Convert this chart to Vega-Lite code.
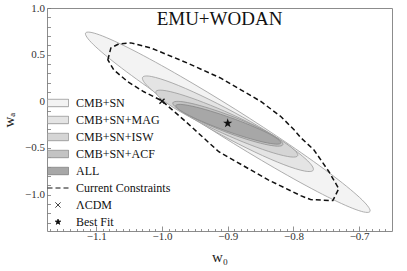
{
  "$schema": "https://vega.github.io/schema/vega-lite/v6.json",
  "width": 345,
  "height": 223,
  "autosize": {"type": "none"},
  "padding": {"left": 47, "top": 8, "right": 15, "bottom": 40},
  "title": {"text": "EMU+WODAN", "font": "Liberation Serif", "fontSize": 19, "fontWeight": "normal", "color": "#111", "offset": -27, "anchor": "middle"},
  "datasets": {
    "ell": [
      {"series": "CMB+SN", "i": 0, "x": -0.6836, "y": -1.1817},
      {"series": "CMB+SN", "i": 1, "x": -0.6954, "y": -1.0569},
      {"series": "CMB+SN", "i": 2, "x": -0.7383, "y": -0.8053},
      {"series": "CMB+SN", "i": 3, "x": -0.8059, "y": -0.4653},
      {"series": "CMB+SN", "i": 4, "x": -0.8877, "y": -0.0887},
      {"series": "CMB+SN", "i": 5, "x": -0.9715, "y": 0.2673},
      {"series": "CMB+SN", "i": 6, "x": -1.0442, "y": 0.5484},
      {"series": "CMB+SN", "i": 7, "x": -1.095, "y": 0.7119},
      {"series": "CMB+SN", "i": 8, "x": -1.1162, "y": 0.7327},
      {"series": "CMB+SN", "i": 9, "x": -1.1044, "y": 0.6079},
      {"series": "CMB+SN", "i": 10, "x": -1.0615, "y": 0.3563},
      {"series": "CMB+SN", "i": 11, "x": -0.9939, "y": 0.0163},
      {"series": "CMB+SN", "i": 12, "x": -0.9121, "y": -0.3603},
      {"series": "CMB+SN", "i": 13, "x": -0.8283, "y": -0.7163},
      {"series": "CMB+SN", "i": 14, "x": -0.7556, "y": -0.9974},
      {"series": "CMB+SN", "i": 15, "x": -0.7048, "y": -1.1609},
      {"series": "CMB+SN+MAG", "i": 0, "x": -0.7699, "y": -0.7382},
      {"series": "CMB+SN+MAG", "i": 1, "x": -0.7761, "y": -0.6536},
      {"series": "CMB+SN+MAG", "i": 2, "x": -0.8012, "y": -0.5062},
      {"series": "CMB+SN+MAG", "i": 3, "x": -0.8413, "y": -0.3183},
      {"series": "CMB+SN+MAG", "i": 4, "x": -0.8902, "y": -0.1186},
      {"series": "CMB+SN+MAG", "i": 5, "x": -0.9407, "y": 0.0625},
      {"series": "CMB+SN+MAG", "i": 6, "x": -0.9848, "y": 0.1975},
      {"series": "CMB+SN+MAG", "i": 7, "x": -1.0161, "y": 0.2658},
      {"series": "CMB+SN+MAG", "i": 8, "x": -1.0295, "y": 0.257},
      {"series": "CMB+SN+MAG", "i": 9, "x": -1.0233, "y": 0.1724},
      {"series": "CMB+SN+MAG", "i": 10, "x": -0.9982, "y": 0.025},
      {"series": "CMB+SN+MAG", "i": 11, "x": -0.9581, "y": -0.1629},
      {"series": "CMB+SN+MAG", "i": 12, "x": -0.9092, "y": -0.3626},
      {"series": "CMB+SN+MAG", "i": 13, "x": -0.8587, "y": -0.5437},
      {"series": "CMB+SN+MAG", "i": 14, "x": -0.8146, "y": -0.6787},
      {"series": "CMB+SN+MAG", "i": 15, "x": -0.7833, "y": -0.747},
      {"series": "CMB+SN+ISW", "i": 0, "x": -0.7935, "y": -0.5832},
      {"series": "CMB+SN+ISW", "i": 1, "x": -0.7992, "y": -0.5179},
      {"series": "CMB+SN+ISW", "i": 2, "x": -0.8204, "y": -0.4101},
      {"series": "CMB+SN+ISW", "i": 3, "x": -0.854, "y": -0.2763},
      {"series": "CMB+SN+ISW", "i": 4, "x": -0.8948, "y": -0.1368},
      {"series": "CMB+SN+ISW", "i": 5, "x": -0.9366, "y": -0.0129},
      {"series": "CMB+SN+ISW", "i": 6, "x": -0.973, "y": 0.0767},
      {"series": "CMB+SN+ISW", "i": 7, "x": -0.9986, "y": 0.1181},
      {"series": "CMB+SN+ISW", "i": 8, "x": -1.0093, "y": 0.1052},
      {"series": "CMB+SN+ISW", "i": 9, "x": -1.0036, "y": 0.0399},
      {"series": "CMB+SN+ISW", "i": 10, "x": -0.9824, "y": -0.0679},
      {"series": "CMB+SN+ISW", "i": 11, "x": -0.9488, "y": -0.2017},
      {"series": "CMB+SN+ISW", "i": 12, "x": -0.908, "y": -0.3412},
      {"series": "CMB+SN+ISW", "i": 13, "x": -0.8662, "y": -0.4651},
      {"series": "CMB+SN+ISW", "i": 14, "x": -0.8298, "y": -0.5547},
      {"series": "CMB+SN+ISW", "i": 15, "x": -0.8042, "y": -0.5961},
      {"series": "CMB+SN+ACF", "i": 0, "x": -0.8161, "y": -0.4653},
      {"series": "CMB+SN+ACF", "i": 1, "x": -0.8207, "y": -0.4157},
      {"series": "CMB+SN+ACF", "i": 2, "x": -0.8374, "y": -0.3395},
      {"series": "CMB+SN+ACF", "i": 3, "x": -0.8635, "y": -0.2482},
      {"series": "CMB+SN+ACF", "i": 4, "x": -0.8952, "y": -0.1557},
      {"series": "CMB+SN+ACF", "i": 5, "x": -0.9275, "y": -0.0762},
      {"series": "CMB+SN+ACF", "i": 6, "x": -0.9557, "y": -0.0217},
      {"series": "CMB+SN+ACF", "i": 7, "x": -0.9753, "y": -0.0005},
      {"series": "CMB+SN+ACF", "i": 8, "x": -0.9835, "y": -0.0159},
      {"series": "CMB+SN+ACF", "i": 9, "x": -0.9789, "y": -0.0655},
      {"series": "CMB+SN+ACF", "i": 10, "x": -0.9622, "y": -0.1417},
      {"series": "CMB+SN+ACF", "i": 11, "x": -0.9361, "y": -0.233},
      {"series": "CMB+SN+ACF", "i": 12, "x": -0.9044, "y": -0.3255},
      {"series": "CMB+SN+ACF", "i": 13, "x": -0.8721, "y": -0.405},
      {"series": "CMB+SN+ACF", "i": 14, "x": -0.8439, "y": -0.4595},
      {"series": "CMB+SN+ACF", "i": 15, "x": -0.8243, "y": -0.4807},
      {"series": "ALL", "i": 0, "x": -0.8192, "y": -0.4472},
      {"series": "ALL", "i": 1, "x": -0.8239, "y": -0.4049},
      {"series": "ALL", "i": 2, "x": -0.84, "y": -0.3384},
      {"series": "ALL", "i": 3, "x": -0.8652, "y": -0.2579},
      {"series": "ALL", "i": 4, "x": -0.8955, "y": -0.1755},
      {"series": "ALL", "i": 5, "x": -0.9264, "y": -0.1039},
      {"series": "ALL", "i": 6, "x": -0.9531, "y": -0.0539},
      {"series": "ALL", "i": 7, "x": -0.9715, "y": -0.0331},
      {"series": "ALL", "i": 8, "x": -0.979, "y": -0.0448},
      {"series": "ALL", "i": 9, "x": -0.9743, "y": -0.0871},
      {"series": "ALL", "i": 10, "x": -0.9582, "y": -0.1536},
      {"series": "ALL", "i": 11, "x": -0.933, "y": -0.2341},
      {"series": "ALL", "i": 12, "x": -0.9027, "y": -0.3165},
      {"series": "ALL", "i": 13, "x": -0.8718, "y": -0.3881},
      {"series": "ALL", "i": 14, "x": -0.8451, "y": -0.4381},
      {"series": "ALL", "i": 15, "x": -0.8267, "y": -0.4589}
    ],
    "cons": [
      {"series": "Current Constraints", "i": 0, "x": -1.0824, "y": 0.444},
      {"series": "Current Constraints", "i": 1, "x": -1.0778, "y": 0.572},
      {"series": "Current Constraints", "i": 2, "x": -1.0657, "y": 0.615},
      {"series": "Current Constraints", "i": 3, "x": -1.0474, "y": 0.626},
      {"series": "Current Constraints", "i": 4, "x": -1.017, "y": 0.572},
      {"series": "Current Constraints", "i": 5, "x": -0.961, "y": 0.409},
      {"series": "Current Constraints", "i": 6, "x": -0.9105, "y": 0.248},
      {"series": "Current Constraints", "i": 7, "x": -0.88, "y": 0.123},
      {"series": "Current Constraints", "i": 8, "x": -0.8496, "y": -0.002},
      {"series": "Current Constraints", "i": 9, "x": -0.8192, "y": -0.163},
      {"series": "Current Constraints", "i": 10, "x": -0.799, "y": -0.305},
      {"series": "Current Constraints", "i": 11, "x": -0.7888, "y": -0.39},
      {"series": "Current Constraints", "i": 12, "x": -0.769, "y": -0.519},
      {"series": "Current Constraints", "i": 13, "x": -0.746, "y": -0.754},
      {"series": "Current Constraints", "i": 14, "x": -0.731, "y": -0.936},
      {"series": "Current Constraints", "i": 15, "x": -0.74, "y": -1.064},
      {"series": "Current Constraints", "i": 16, "x": -0.774, "y": -1.053},
      {"series": "Current Constraints", "i": 17, "x": -0.789, "y": -1.011},
      {"series": "Current Constraints", "i": 18, "x": -0.839, "y": -0.84},
      {"series": "Current Constraints", "i": 19, "x": -0.9136, "y": -0.54},
      {"series": "Current Constraints", "i": 20, "x": -0.9637, "y": -0.219},
      {"series": "Current Constraints", "i": 21, "x": -1.0, "y": 0.005},
      {"series": "Current Constraints", "i": 22, "x": -1.0276, "y": 0.102},
      {"series": "Current Constraints", "i": 23, "x": -1.052, "y": 0.209},
      {"series": "Current Constraints", "i": 24, "x": -1.0733, "y": 0.337}
    ],
    "marks": [
      {"series": "ΛCDM", "x": -1.0, "y": 0.0},
      {"series": "Best Fit", "x": -0.9, "y": -0.235}
    ]
  },
  "data": {"name": "ell"},
  "encoding": {
    "x": {"field": "x", "type": "quantitative", "scale": {"domain": [-1.175, -0.65], "nice": false, "zero": false},
      "axis": {"title": "w₀", "values": [-1.17,-1.16,-1.15,-1.14,-1.13,-1.12,-1.11,-1.1,-1.09,-1.08,-1.07,-1.06,-1.05,-1.04,-1.03,-1.02,-1.01,-1.0,-0.99,-0.98,-0.97,-0.96,-0.95,-0.94,-0.93,-0.92,-0.91,-0.9,-0.89,-0.88,-0.87,-0.86,-0.85,-0.84,-0.83,-0.82,-0.81,-0.8,-0.79,-0.78,-0.77,-0.76,-0.75,-0.74,-0.73,-0.72,-0.71,-0.7,-0.69,-0.68,-0.67,-0.66],
        "labelExpr": "abs(datum.value*10 - round(datum.value*10)) < 0.001 ? format(datum.value, '.1f') : ''",
        "tickSize": {"condition": {"test": "abs(datum.value*10 - round(datum.value*10)) < 0.001", "value": -5}, "value": -2.5}}},
    "y": {"field": "y", "type": "quantitative", "scale": {"domain": [-1.39, 1.0], "nice": false, "zero": false},
      "axis": {"title": "wₐ", "labelAlign": "right", "labelBaseline": "middle", "labelPadding": 6, "values": [-1.3,-1.2,-1.1,-1.0,-0.9,-0.8,-0.7,-0.6,-0.5,-0.4,-0.3,-0.2,-0.1,0,0.1,0.2,0.3,0.4,0.5,0.6,0.7,0.8,0.9,1.0],
        "labelExpr": "abs(datum.value*2 - round(datum.value*2)) < 0.001 ? (abs(datum.value) < 0.001 ? '0' : format(datum.value, '.1f')) : ''",
        "tickSize": -3.5}}
  },
  "layer": [
    {"transform": [{"filter": "datum.series == 'CMB+SN'"}], "mark": {"type": "line", "interpolate": "cardinal-closed", "strokeWidth": 0.8},
     "encoding": {"order": {"field": "i"}, "fill": {"field": "series", "type": "nominal", "title": null, "scale": {"domain": ["CMB+SN","CMB+SN+MAG","CMB+SN+ISW","CMB+SN+ACF","ALL","Current Constraints","ΛCDM","Best Fit"], "range": ["#f3f3f3","#e4e4e4","#d5d5d5","#c3c3c3","#a7a7a7","transparent","transparent","#111"]}},
       "stroke": {"field": "series", "type": "nominal", "title": null, "scale": {"domain": ["CMB+SN","CMB+SN+MAG","CMB+SN+ISW","CMB+SN+ACF","ALL","Current Constraints","ΛCDM","Best Fit"], "range": ["#9a9a9a","#9a9a9a","#9a9a9a","#909090","#858585","#111","#111","#111"]}}}},
    {"transform": [{"filter": "datum.series == 'CMB+SN+MAG'"}], "mark": {"type": "line", "interpolate": "cardinal-closed", "strokeWidth": 0.8},
     "encoding": {"order": {"field": "i"}, "fill": {"field": "series", "type": "nominal", "title": null}, "stroke": {"field": "series", "type": "nominal", "title": null}}},
    {"transform": [{"filter": "datum.series == 'CMB+SN+ISW'"}], "mark": {"type": "line", "interpolate": "cardinal-closed", "strokeWidth": 0.8},
     "encoding": {"order": {"field": "i"}, "fill": {"field": "series", "type": "nominal", "title": null}, "stroke": {"field": "series", "type": "nominal", "title": null}}},
    {"transform": [{"filter": "datum.series == 'CMB+SN+ACF'"}], "mark": {"type": "line", "interpolate": "cardinal-closed", "strokeWidth": 0.8},
     "encoding": {"order": {"field": "i"}, "fill": {"field": "series", "type": "nominal", "title": null}, "stroke": {"field": "series", "type": "nominal", "title": null}}},
    {"transform": [{"filter": "datum.series == 'ALL'"}], "mark": {"type": "line", "interpolate": "cardinal-closed", "strokeWidth": 0.8},
     "encoding": {"order": {"field": "i"}, "fill": {"field": "series", "type": "nominal", "title": null}, "stroke": {"field": "series", "type": "nominal", "title": null}}},
    {"data": {"name": "cons"}, "mark": {"type": "line", "interpolate": "linear-closed", "strokeWidth": 1.5},
     "encoding": {"order": {"field": "i"}, "stroke": {"field": "series", "type": "nominal", "title": null},
       "strokeDash": {"field": "series", "type": "nominal", "title": null, "scale": {"domain": ["CMB+SN","CMB+SN+MAG","CMB+SN+ISW","CMB+SN+ACF","ALL","Current Constraints","ΛCDM","Best Fit"], "range": [[1,0],[1,0],[1,0],[1,0],[1,0],[5,3],[1,0],[1,0]]}}}},
    {"data": {"name": "marks"}, "mark": {"type": "point", "filled": true, "size": 441, "strokeWidth": 1.3, "opacity": 1},
     "encoding": {"fill": {"field": "series", "type": "nominal", "title": null}, "stroke": {"field": "series", "type": "nominal", "title": null},
       "shape": {"field": "series", "type": "nominal", "title": null, "scale": {"domain": ["CMB+SN","CMB+SN+MAG","CMB+SN+ISW","CMB+SN+ACF","ALL","Current Constraints","ΛCDM","Best Fit"], "range": ["M-1,-0.35H1V0.35H-1Z","M-1,-0.35H1V0.35H-1Z","M-1,-0.35H1V0.35H-1Z","M-1,-0.35H1V0.35H-1Z","M-1,-0.35H1V0.35H-1Z","M-1,0H1","M-0.24,-0.24L0.24,0.24M-0.24,0.24L0.24,-0.24","M0,-0.27L0.062,-0.086L0.257,-0.083L0.101,0.033L0.159,0.218L0,0.106L-0.159,0.218L-0.101,0.033L-0.257,-0.083L-0.062,-0.086Z"]}}}}
  ],
  "config": {
    "view": {"stroke": "#8c8c8c", "strokeWidth": 1},
    "font": "Liberation Serif",
    "axis": {"domain": false, "grid": false, "tickColor": "#777", "tickWidth": 0.8, "labelFont": "Liberation Serif", "labelFontSize": 11, "labelColor": "#333", "labelOverlap": false, "labelFlush": false, "labelPadding": 4,
      "titleFont": "Liberation Serif", "titleFontSize": 15, "titleFontWeight": "normal", "titleColor": "#222"},
    "axisX": {"titlePadding": 6},
    "axisY": {"titlePadding": 8},
    "legend": {"orient": "none", "legendX": 0, "legendY": 84, "labelFont": "Liberation Serif", "labelFontSize": 12, "labelColor": "#111", "symbolSize": 441, "symbolStrokeWidth": 1, "rowPadding": -4, "labelOffset": 7, "padding": 0}
  }
}
